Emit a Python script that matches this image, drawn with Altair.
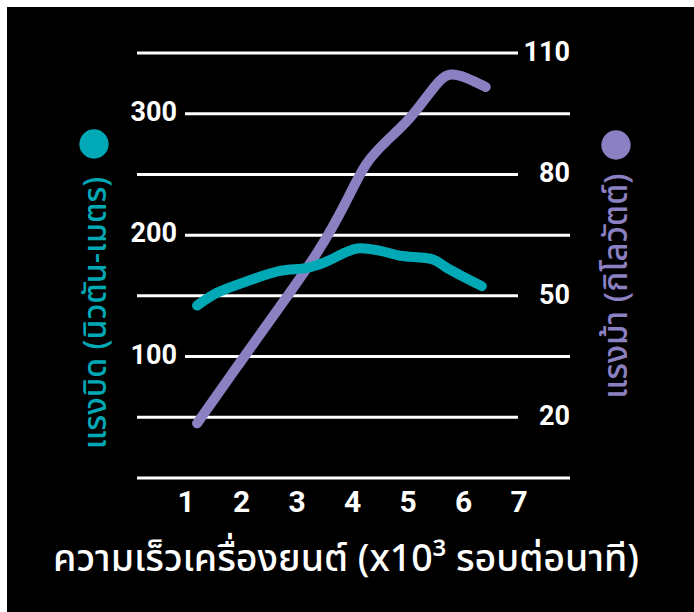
import altair as alt
import pandas as pd

# ---- data ----
rpm_torque = [1.2, 1.56, 2.1, 2.69, 3.18, 3.47, 4.08, 4.5, 4.86, 5.45, 5.7, 6.0, 6.33]
torque_nm = [142, 152.5, 162, 170.5, 173, 177, 189, 187, 183, 180, 173, 165.6, 158]

rpm_power = [1.2, 1.96, 2.69, 3.41, 3.9, 4.23, 4.64, 5.04, 5.31, 5.58, 5.76, 6.03, 6.4]
power_kw = [18.5, 33.3, 47.3, 61.1, 73.4, 83.2, 88.6, 93.8, 98.7, 103.6, 105.1, 104.1, 101.6]

left_ticks = [100, 200, 300]          # torque axis labels
right_ticks = [20, 50, 80, 110]       # power axis labels
x_ticks = [1, 2, 3, 4, 5, 6, 7]
base_line = [0]

x_title = "ความเร็วเครื่องยนต์ (x10³ รอบต่อนาที)"
left_title = "แรงบิด (นิวตัน-เมตร)"
right_title = "แรงม้า (กิโลวัตต์)"

TEAL = "#00A9B5"
PURPLE = "#8B80C1"
NUMFONT = "Roboto"
THAIFONT = "Noto Sans Thai, Noto Sans, sans-serif"

# ---- scales ----
xs = alt.Scale(domain=[0, 7], range=[123.5, 512])
ys_left = alt.Scale(domain=[0, 350], range=[471, 46])
ys_right = alt.Scale(domain=[5, 110], range=[471, 46])

df_t = pd.DataFrame({"rpm": rpm_torque, "v": torque_nm})
df_p = pd.DataFrame({"rpm": rpm_power, "v": power_kw})
df_lt = pd.DataFrame({"v": left_ticks, "t": [str(v) for v in left_ticks]})
df_rt = pd.DataFrame({"v": right_ticks, "t": [str(v) for v in right_ticks]})
df_xt = pd.DataFrame({"x": x_ticks, "t": [str(v) for v in x_ticks]})
df_base = pd.DataFrame({"v": base_line})

yL = alt.Y("v:Q", scale=ys_left, axis=None)
yR = alt.Y("v:Q", scale=ys_right, axis=None)

grid_r = alt.Chart(df_rt).mark_rule(color="white", strokeWidth=3).encode(
    y=yR, x=alt.value(130), x2=alt.value(511))
grid_l = alt.Chart(df_lt).mark_rule(color="white", strokeWidth=3).encode(
    y=yL, x=alt.value(178), x2=alt.value(563))
grid_b = alt.Chart(df_base).mark_rule(color="white", strokeWidth=3).encode(
    y=yL, x=alt.value(130), x2=alt.value(563))

lab_l = alt.Chart(df_lt).mark_text(
    color="white", font=NUMFONT, fontWeight="bold", fontSize=27,
    align="right", baseline="middle", dy=-1).encode(
    y=yL, x=alt.value(170), text="t:N")
lab_r = alt.Chart(df_rt).mark_text(
    color="white", font=NUMFONT, fontWeight="bold", fontSize=27,
    align="right", baseline="middle", dy=0).encode(
    y=yR, x=alt.value(563), text="t:N")
lab_x = alt.Chart(df_xt).mark_text(
    color="white", font=NUMFONT, fontWeight="bold", fontSize=30,
    align="center", baseline="middle").encode(
    x=alt.X("x:Q", scale=xs, axis=None), y=alt.value(496), text="t:N")

line_p = alt.Chart(df_p).mark_line(
    color=PURPLE, strokeWidth=10, strokeCap="round", strokeJoin="round",
    interpolate="basis").encode(
    x=alt.X("rpm:Q", scale=xs, axis=None), y=yR)
line_t = alt.Chart(df_t).mark_line(
    color=TEAL, strokeWidth=10, strokeCap="round", strokeJoin="round",
    interpolate="catmull-rom").encode(
    x=alt.X("rpm:Q", scale=xs, axis=None), y=yL)

t_x = alt.Chart(pd.DataFrame({"t": [x_title]})).mark_text(
    color="white", font=THAIFONT, fontSize=37.5, fontWeight=500, align="center",
    baseline="middle").encode(x=alt.value(339), y=alt.value(553), text="t:N")
t_l = alt.Chart(pd.DataFrame({"t": [left_title]})).mark_text(
    color=TEAL, font=THAIFONT, fontSize=32, fontWeight=500, align="center", angle=270,
    baseline="middle").encode(x=alt.value(89), y=alt.value(306), text="t:N")
t_r = alt.Chart(pd.DataFrame({"t": [right_title]})).mark_text(
    color=PURPLE, font=THAIFONT, fontSize=33, fontWeight=500, align="center", angle=270,
    baseline="middle").encode(x=alt.value(610), y=alt.value(279), text="t:N")
dot_l = alt.Chart(pd.DataFrame({"k": ["torque"]})).mark_circle(
    color=TEAL, opacity=1, size=860).encode(x=alt.value(87), y=alt.value(137))
dot_r = alt.Chart(pd.DataFrame({"k": ["power"]})).mark_circle(
    color=PURPLE, opacity=1, size=860).encode(x=alt.value(609), y=alt.value(138))

chart = alt.layer(
    grid_r, grid_l, grid_b, lab_l, lab_r, lab_x,
    line_p, line_t, t_x, t_l, t_r, dot_l, dot_r
).resolve_scale(y="independent").properties(
    width=687, height=605, autosize="none",
    padding={"left": 7, "top": 7, "right": 0, "bottom": 0},
    background="white",
).configure_view(fill="black", strokeWidth=0)

chart.save("out.html", embed_options={"renderer": "svg", "actions": False})
